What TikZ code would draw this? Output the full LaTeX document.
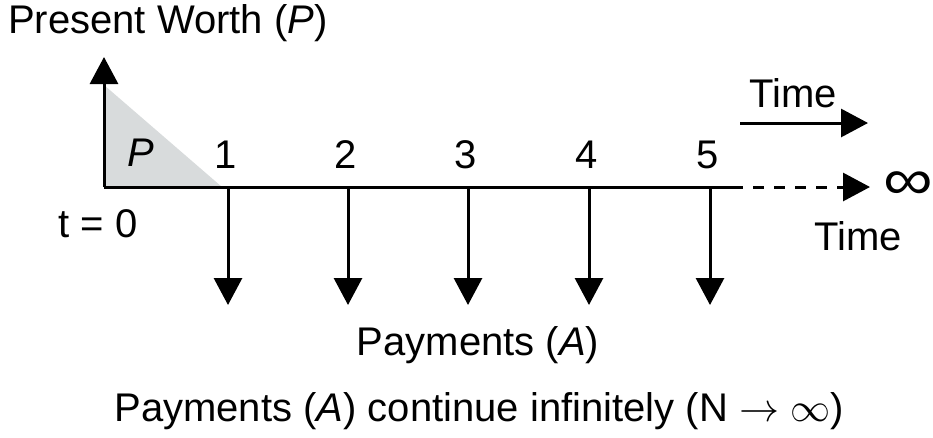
\RequirePackage{fix-cm}
\documentclass[tikz,border=0pt]{standalone}
\usepackage{fontspec}
\setmainfont{Liberation Sans}
\usetikzlibrary{arrows.meta,positioning}
\definecolor{triGray}{RGB}{216,219,220}
\tikzset{axis line/.style={line width=3pt},
	flow arrow/.style={line width=3pt,-{Triangle[width=28pt,length=27pt]}},
	lbl/.style={font=\fontsize{40}{48}\selectfont,inner sep=0pt},
}

\begin{document}
\begin{tikzpicture}[x=1pt,y=-1pt]
	\useasboundingbox (0,0) rectangle (933,437);

	%% axis points
	\coordinate (O) at (104,187);
	\coordinate (top) at (104,57);
	\coordinate (triT) at (104,85);
	\coordinate (triR) at (222,187);
	\coordinate (solidEnd) at (732,187);
	\coordinate (infEnd) at (870,187);

	\fill[triGray] (O) -- (triT) -- (triR) -- cycle;
	\draw[flow arrow] (O) -- (top);
	\draw[axis line] (O) -- (solidEnd);
	\draw[flow arrow,dash pattern=on 11pt off 10pt] (solidEnd) -- (infEnd);

	%% payments
	\foreach \n/\x in {1/228,2/348,3/468,4/589,5/710}{
		\coordinate (t\n) at (\x,187);
		\coordinate (a\n) at (\x,305);
		\draw[flow arrow] (t\n) -- (a\n);
		\node[lbl] (num\n) at (\x-2,155) {\n};
	}

	%% labels
	\node[lbl,anchor=west] (pw) at (8,23) {Present Worth (\textit{P})};
	\node[lbl] (P) at (141,153) {\textit{P}};
	\node[lbl] (t0) at (98,224) {t = 0};
	\node[font=\fontsize{58}{64}\selectfont,inner sep=0pt,anchor=west,xscale=1.2] (inf) at (883,186) {∞};
	\node[lbl] (time1) at (793,93) {Time};
	\coordinate (tA) at (740,123);
	\coordinate (tB) at (868,123);
	\draw[flow arrow] (tA) -- (tB);
	\node[lbl] (time2) at (858,236) {Time};
	\node[lbl] (pay) at (478,345) {Payments (\textit{A})};
	\node[lbl] (note) at (479,411) {Payments (\textit{A}) continue infinitely (N $\rightarrow$ $\infty$)};
\end{tikzpicture}
\end{document}
